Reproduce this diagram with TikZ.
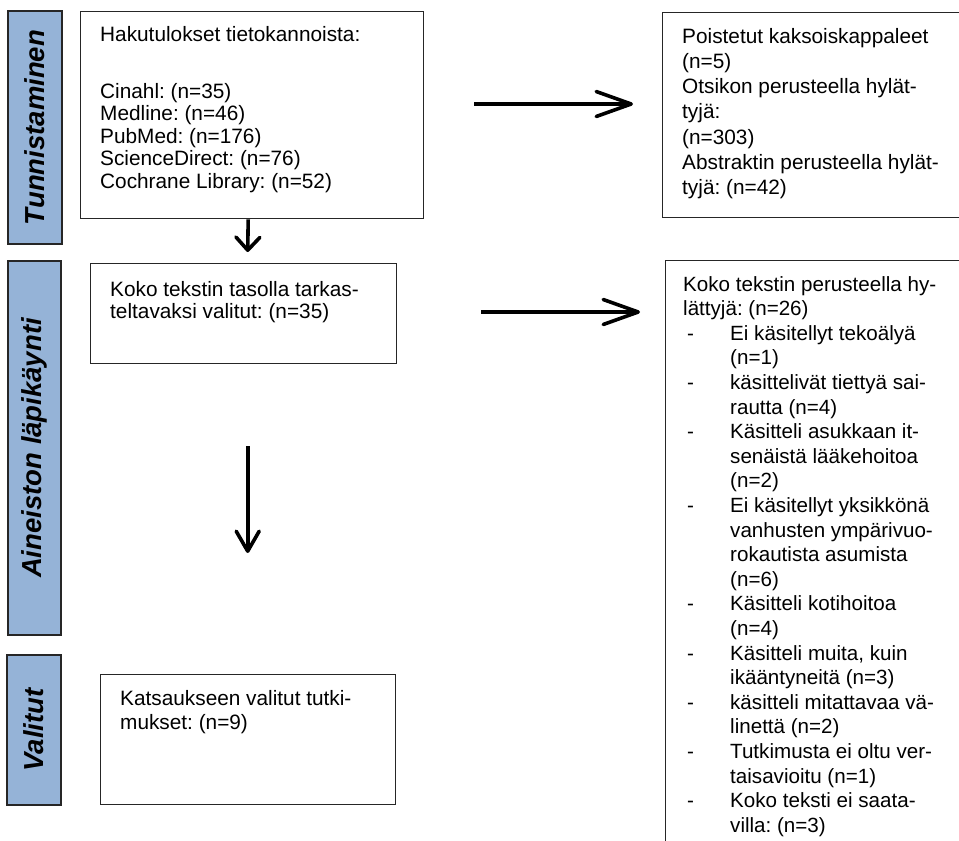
\documentclass[tikz,border=0pt]{standalone}
\usepackage{fontspec}
\setmainfont{Liberation Sans}
\usetikzlibrary{arrows.meta,calc}
\definecolor{barblue}{HTML}{95B3D7}
\frenchspacing
\begin{document}
\frenchspacing
\begin{tikzpicture}[x=1pt,y=-1pt,
  bar/.style={draw=black!85, line width=1.5pt, fill=barblue, inner sep=0pt, rotate=90,
              font=\fontsize{27.5}{30}\selectfont\bfseries\itshape},
  boxn/.style={draw=black!85, line width=1.4pt, inner sep=0pt, anchor=north west},
  txt/.style={anchor=north west, inner sep=0pt, align=left},
  arrh/.style={line width=3.6pt, -{Straight Barb[length=35pt,width=25pt,round]}},
  arrv/.style={line width=3.6pt, -{Straight Barb[length=20pt,width=23pt,round]}}]
\useasboundingbox (0,0) rectangle (959,841);
\clip (0,0) rectangle (959,841);
\fill[white] (0,0) rectangle (959,841);

% phase bars
\node[bar, minimum width=233pt, minimum height=54pt] (p1) at (35,127.5) {Tunnistaminen};
\node[bar, minimum width=374pt, minimum height=53pt] (p2) at (34.5,448) {Aineiston läpikäynti};
\node[bar, minimum width=150pt, minimum height=54pt] (p3) at (34,730) {Valitut};

% boxes
\node[boxn, minimum width=343pt, minimum height=207pt] (b1) at (80,11) {};
\node[boxn, minimum width=306pt, minimum height=100pt] (b2) at (90,263) {};
\node[boxn, minimum width=295pt, minimum height=130pt] (b3) at (100,674) {};
\node[boxn, minimum width=330pt, minimum height=205pt] (r1) at (662,12) {};
\node[boxn, minimum width=330pt, minimum height=640pt] (r2) at (665,260) {};

% texts
\node[txt, font=\fontsize{20.8}{22.5}\selectfont] (t1) at (100,26)
  {Hakutulokset tietokannoista:\\[34.5pt]
   Cinahl: (n=35)\\
   Medline: (n=46)\\
   PubMed: (n=176)\\
   ScienceDirect: (n=76)\\
   Cochrane Library: (n=52)};
\node[txt, font=\fontsize{20.8}{22}\selectfont] (t2) at (110,281)
  {Koko tekstin tasolla tarkas-\\
   teltavaksi valitut: (n=35)};
\node[txt, font=\fontsize{20.8}{24.5}\selectfont] (t3) at (120,690)
  {Katsaukseen valitut tutki-\\
   mukset: (n=9)};
\node[txt, font=\fontsize{20.8}{25.2}\selectfont] (t4) at (682,28)
  {Poistetut kaksoiskappaleet\\
   (n=5)\\
   Otsikon perusteella hylät-\\
   tyjä:\\
   (n=303)\\
   Abstraktin perusteella hylät-\\
   tyjä: (n=42)};
\newcommand\itm{\hspace*{4pt}\makebox[43pt][l]{-}}
\newcommand\cnt{\hspace*{47pt}}
\node[txt, font=\fontsize{20.6}{24.6}\selectfont] (t5) at (683,276)
  {Koko tekstin perusteella hy-\\
   lättyjä: (n=26)\\
   \itm Ei käsitellyt tekoälyä\\
   \cnt (n=1)\\
   \itm käsittelivät tiettyä sai-\\
   \cnt rautta (n=4)\\
   \itm Käsitteli asukkaan it-\\
   \cnt senäistä lääkehoitoa\\
   \cnt (n=2)\\
   \itm Ei käsitellyt yksikkönä\\
   \cnt vanhusten ympärivuo-\\
   \cnt rokautista asumista\\
   \cnt (n=6)\\
   \itm Käsitteli kotihoitoa\\
   \cnt (n=4)\\
   \itm Käsitteli muita, kuin\\
   \cnt ikääntyneitä (n=3)\\
   \itm käsitteli mitattavaa vä-\\
   \cnt linettä (n=2)\\
   \itm Tutkimusta ei oltu ver-\\
   \cnt taisavioitu (n=1)\\
   \itm Koko teksti ei saata-\\
   \cnt villa: (n=3)};

% connectors
\draw[arrh] ($(b1.north east)+(50,93)$) -- ($(r1.north west)+(-29,92)$);
\draw[arrh] ($(b2.north east)+(84,49)$) -- ($(r2.north west)+(-25,52)$);
\draw[arrv,-{Straight Barb[length=13pt,width=24pt,round]}] ($(b1.south)+(-4,0)$) -- ($(b2.north)+(4,-11)$);
\draw[arrv] ($(b2.south)+(4,82)$) -- ($(b3.north)+(-0.5,-121)$);
\end{tikzpicture}
\end{document}
